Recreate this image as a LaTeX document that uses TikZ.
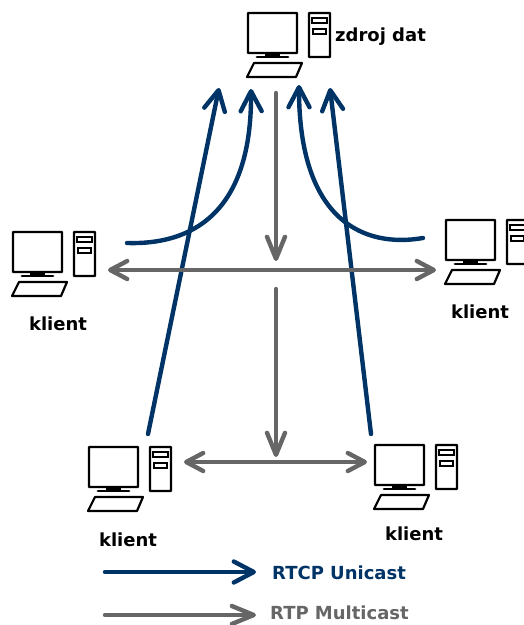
\documentclass[tikz,border=0pt]{standalone}
\usepackage{fontspec}
\setmainfont{DejaVu Sans}
\usepackage{xcolor}
\usetikzlibrary{arrows.meta, positioning}

\definecolor{rtcpblue}{HTML}{003366}
\definecolor{rtpgray}{HTML}{666666}

\tikzset{
    rtcp/.style={rtcpblue, line width=4.4pt, line cap=round,
        -{Straight Barb[length=20pt, width=21pt, round, line width=4.4pt]}},
    rtp/.style={rtpgray, line width=4.4pt, line cap=round,
        -{Straight Barb[length=22pt, width=18pt, round, line width=4.4pt]}},
    rtpboth/.style={rtp,
        {Straight Barb[length=17pt, width=18pt, round, line width=4.4pt]}-{Straight Barb[length=17pt, width=18pt, round, line width=4.4pt]}},
    caption/.style={font=\bfseries\fontsize{18}{20}\selectfont, inner sep=0pt},
    computer/.pic={
        \draw[line width=2.4pt, rounded corners=0.5pt] (0,0) rectangle (49,40);
        \fill (17,40) rectangle (32,43);
        \draw[line width=2.8pt, line cap=round] (9,44) -- (40,44);
        \draw[line width=2.2pt, line join=round] (6,50) -- (54,50) -- (48,64) -- (-1,64) -- cycle;
        \draw[line width=2.4pt, rounded corners=0.5pt] (61,0) rectangle (82,44);
        \draw[line width=1.8pt] (64,5) rectangle (79,10);
        \draw[line width=1.8pt] (65,16) rectangle (78,21);
    }
}

\begin{document}
\begin{tikzpicture}[x=1pt, y=-1pt]

    \useasboundingbox (0,0) rectangle (524,625);

    \pic (source) at (248,13) {computer};
    \pic (clientl) at (13,232) {computer};
    \pic (clientr) at (446,220) {computer};
    \pic (clientbl) at (89,447) {computer};
    \pic (clientbr) at (375,445) {computer};

    \node[caption, anchor=west] (sourcetext) at (335,37) {zdroj dat};
    \node[caption] (textl) at (58,324) {klient};
    \node[caption] (textr) at (480,312) {klient};
    \node[caption] (textbl) at (128,540) {klient};
    \node[caption] (textbr) at (414,534) {klient};

    \coordinate (topa) at (219,88);
    \coordinate (topb) at (251,89);
    \coordinate (topc) at (299,85);
    \coordinate (topd) at (330,88);
    \coordinate (startl) at (127,243);
    \coordinate (startr) at (423,238);
    \coordinate (startbl) at (148,434);
    \coordinate (startbr) at (371,434);

    \draw[rtcp] (startbl) -- (topa);
    \draw[rtcp] (startbr) -- (topd);
    \draw[rtcp] (startl) .. controls (190,245) and (252,215) .. (topb);
    \draw[rtcp] (startr) .. controls (365,248) and (299,222) .. (topc);

    \coordinate (splitb) at (276,93);
    \coordinate (splitc) at (276,261);
    \coordinate (splitd) at (276,289);
    \coordinate (splite) at (276,457);
    \coordinate (rowla) at (108,270);
    \coordinate (rowlb) at (436,270);
    \coordinate (rowba) at (184,462);
    \coordinate (rowbb) at (367,462);

    \draw[rtp] (splitb) -- (splitc);
    \draw[rtp] (splitd) -- (splite);
    \draw[rtpboth] (rowla) -- (rowlb);
    \draw[rtpboth] (rowba) -- (rowbb);

    \coordinate (keya) at (105,572);
    \coordinate (keyb) at (256,572);
    \coordinate (keyc) at (105,615);
    \coordinate (keyd) at (256,615);

    \draw[rtcp] (keya) -- (keyb);
    \draw[rtp] (keyc) -- (keyd);

    \node[caption, rtcpblue, anchor=west] (keytexta) at (272,573) {RTCP Unicast};
    \node[caption, rtpgray, anchor=west] (keytextb) at (270,613) {RTP Multicast};

\end{tikzpicture}
\end{document}
